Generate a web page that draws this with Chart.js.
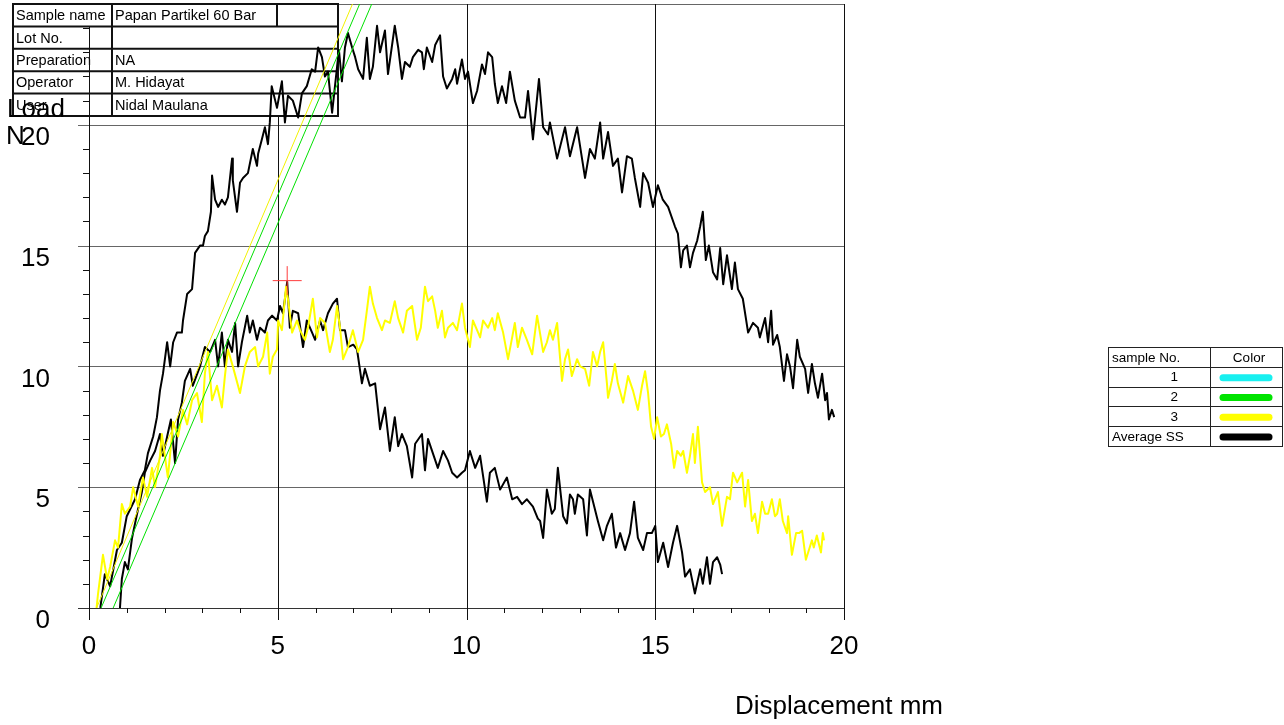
<!DOCTYPE html>
<html>
<head>
<meta charset="utf-8">
<title>Load - Displacement</title>
<script src="https://cdn.jsdelivr.net/npm/chart.js@4.4.1/dist/chart.umd.min.js"></script>
<style>
  html, body { margin:0; padding:0; background:#fff; }
  canvas { display:block; }
</style>
</head>
<body>
<canvas id="chart" width="1284" height="725"></canvas>
<script>
// Curves: x = displacement (mm), y = load (N)
const hiX = [0.30,0.42,0.56,0.74,0.87,1.00,1.22,1.35,1.48,1.56,1.70,1.80,1.88,1.96,2.07,2.15,2.23,2.33,2.46,2.49,2.60,2.73,2.81,2.94,3.02,3.07,3.15,3.23,3.26,3.34,3.42,3.52,3.60,3.68,3.79,3.81,3.92,4.00,4.08,4.21,4.34,4.45,4.48,4.58,4.66,4.74,4.79,4.84,4.98,5.11,5.19,5.27,5.40,5.54,5.64,5.77,5.90,5.99,6.07,6.17,6.25,6.33,6.44,6.62,6.70,6.78,6.86,6.97,7.05,7.13,7.26,7.36,7.44,7.52,7.63,7.71,7.84,7.92,8.10,8.19,8.29,8.37,8.50,8.58,8.72,8.82,8.87,8.95,9.09,9.17,9.30,9.38,9.48,9.62,9.70,9.75,9.88,9.96,10.04,10.17,10.28,10.41,10.49,10.57,10.68,10.75,10.83,10.94,11.05,11.15,11.28,11.42,11.55,11.63,11.76,11.92,12.03,12.16,12.21,12.40,12.61,12.74,12.93,13.14,13.27,13.40,13.54,13.62,13.75,13.88,14.01,14.12,14.25,14.38,14.46,14.60,14.68,14.81,14.94,15.07,15.20,15.34,15.52,15.60,15.68,15.74,15.84,15.92,16.00,16.11,16.19,16.26,16.34,16.42,16.53,16.64,16.72,16.80,16.90,17.03,17.11,17.19,17.32,17.46,17.59,17.72,17.77,17.91,17.99,18.07,18.12,18.23,18.30,18.41,18.49,18.57,18.65,18.76,18.83,18.97,19.05,19.15,19.23,19.31,19.42,19.50,19.55,19.60,19.68,19.74];
const hiY = [0,1.4,0.9,2.4,2.7,3.8,4.5,5.3,5.7,6.4,7.1,7.9,9.0,9.7,11.0,10.0,11.0,11.4,11.4,11.9,13.0,13.2,14.7,15.0,15.0,15.4,15.6,16.4,17.9,16.9,16.6,16.9,16.7,17.0,18.6,17.7,16.4,17.6,17.8,18.0,19.0,18.3,18.8,19.4,19.9,19.2,20.1,21.6,20.7,21.8,20.1,21.2,21.0,20.3,21.3,21.6,22.3,22.2,23.2,22.8,22.0,22.2,20.5,23.1,21.8,23.2,23.8,23.2,22.8,22.3,21.9,23.6,21.9,22.4,24.1,23.0,23.9,22.1,24.1,23.2,21.9,22.6,22.4,22.8,23.1,23.0,22.3,23.2,22.6,23.3,23.7,22.0,21.5,21.9,22.3,21.7,22.7,21.9,22.2,20.9,21.4,22.5,22.1,23.0,22.8,21.7,20.9,21.6,20.9,22.2,21.0,20.3,20.3,21.4,19.4,21.9,19.9,19.6,20.1,18.6,19.9,18.7,19.9,17.8,19.0,18.6,20.1,18.6,19.7,18.3,18.6,17.2,18.7,18.6,17.8,16.6,18.0,17.6,16.6,17.5,16.9,16.6,15.8,15.5,14.1,14.8,15.0,14.1,14.7,15.2,15.8,16.4,14.4,15.0,13.9,13.6,14.9,13.4,14.6,13.2,14.3,13.2,12.8,11.4,11.8,11.6,11.2,12.0,11.0,12.3,10.9,11.3,10.8,9.4,10.5,10.0,9.1,11.1,10.4,9.9,8.9,10.1,9.3,8.7,9.7,8.6,8.9,7.8,8.2,7.9];

const loX = [0.82,0.87,0.95,1.03,1.14,1.22,1.30,1.40,1.48,1.62,1.75,1.88,1.96,2.07,2.17,2.28,2.36,2.46,2.54,2.68,2.75,2.94,3.07,3.21,3.34,3.42,3.52,3.60,3.68,3.79,3.87,3.95,4.05,4.19,4.26,4.34,4.45,4.53,4.66,4.74,4.85,4.98,5.06,5.14,5.25,5.32,5.40,5.54,5.67,5.77,5.91,5.99,6.12,6.20,6.33,6.46,6.57,6.65,6.78,6.86,7.00,7.10,7.23,7.31,7.44,7.58,7.71,7.84,7.97,8.10,8.19,8.29,8.42,8.56,8.64,8.82,8.90,8.98,9.11,9.24,9.38,9.51,9.62,9.75,9.88,9.96,10.09,10.23,10.36,10.54,10.62,10.75,10.89,11.07,11.21,11.34,11.47,11.60,11.76,11.89,11.95,12.03,12.13,12.26,12.34,12.42,12.56,12.66,12.74,12.82,12.87,12.95,13.09,13.19,13.27,13.40,13.48,13.62,13.72,13.85,13.96,14.07,14.20,14.33,14.44,14.54,14.68,14.78,14.91,15.00,15.07,15.21,15.34,15.47,15.58,15.71,15.79,15.92,16.05,16.19,16.26,16.37,16.45,16.53,16.64,16.72,16.77];
const loY = [0,1.2,1.9,1.6,2.9,3.5,4.1,4.8,5.6,6.1,6.5,7.2,6.3,7.1,7.8,6.0,7.8,8.5,9.4,9.9,9.2,10.0,10.8,10.6,11.1,10.0,11.4,10.0,11.1,10.6,11.8,10.0,11.0,12.1,11.4,11.9,11.1,11.6,11.4,11.9,12.1,11.9,12.5,12.2,13.5,11.6,12.3,12.2,10.8,11.9,11.4,11.1,11.9,11.5,12.2,12.6,12.8,11.5,11.5,10.8,10.9,10.7,9.3,9.9,9.2,9.3,7.4,8.3,6.5,7.9,6.7,7.2,6.7,5.4,6.8,7.2,5.7,7.0,6.4,5.8,6.5,6.1,5.6,5.4,5.6,5.7,6.5,5.8,6.3,4.4,5.6,5.8,4.9,5.4,4.5,4.6,4.3,4.5,4.2,3.7,3.6,2.9,4.9,3.9,4.1,5.8,3.8,3.5,4.7,4.5,3.9,4.7,4.5,3.0,4.9,4.1,3.6,2.8,3.4,3.9,2.5,3.1,2.4,3.1,4.4,2.9,2.4,3.1,3.1,3.4,1.9,2.7,1.7,2.7,3.4,2.3,1.3,1.6,0.6,1.6,1.0,2.1,1.0,1.9,2.1,1.8,1.4];

const yelX = [0.20,0.24,0.37,0.48,0.56,0.69,0.77,0.87,0.95,1.09,1.17,1.30,1.43,1.54,1.67,1.75,1.88,1.93,2.09,2.23,2.36,2.49,2.60,2.73,2.86,2.99,3.07,3.15,3.26,3.39,3.52,3.60,3.68,3.81,4.00,4.13,4.26,4.40,4.48,4.61,4.72,4.79,4.87,4.98,5.01,5.11,5.22,5.27,5.38,5.51,5.59,5.72,5.80,5.93,6.04,6.12,6.25,6.38,6.46,6.57,6.65,6.73,6.86,6.99,7.13,7.26,7.36,7.44,7.52,7.63,7.76,7.84,7.97,8.10,8.19,8.32,8.42,8.56,8.69,8.79,8.90,8.98,9.09,9.17,9.24,9.35,9.43,9.51,9.64,9.75,9.88,9.96,10.09,10.17,10.28,10.36,10.44,10.57,10.68,10.75,10.83,10.97,11.10,11.21,11.28,11.36,11.47,11.60,11.74,11.87,12.03,12.13,12.21,12.29,12.40,12.53,12.61,12.69,12.79,12.93,13.01,13.14,13.25,13.35,13.46,13.54,13.62,13.72,13.75,13.85,13.93,14.01,14.15,14.28,14.41,14.54,14.65,14.73,14.81,14.89,14.97,15.05,15.15,15.23,15.31,15.42,15.50,15.58,15.68,15.74,15.84,15.92,16.00,16.05,16.13,16.24,16.32,16.45,16.53,16.66,16.77,16.90,16.98,17.06,17.17,17.30,17.38,17.46,17.56,17.64,17.72,17.83,17.91,17.99,18.09,18.17,18.23,18.30,18.38,18.49,18.52,18.62,18.73,18.81,18.89,18.99,19.05,19.15,19.20,19.28,19.39,19.44,19.47];
const yelY = [0,0.6,2.2,1.2,1.7,2.8,2.5,4.3,3.9,4.2,5.0,4.2,5.4,4.6,5.8,5.0,6.3,7.2,5.4,7.7,7.1,8.2,7.6,8.6,8.9,7.7,9.7,10.6,8.6,9.2,8.3,9.6,10.7,10.0,8.9,10.0,10.6,10.8,10.0,10.4,11.4,9.7,10.4,10.7,11.9,11.5,13.3,12.8,11.4,11.9,11.5,11.1,11.6,12.8,11.2,12.0,11.8,10.6,11.1,12.5,11.6,10.3,10.8,11.5,10.6,11.1,12.3,13.3,12.6,12.0,11.5,11.9,11.8,12.7,12.0,11.4,12.3,12.5,11.1,11.6,13.3,12.7,12.9,12.3,11.6,12.3,11.2,11.6,11.8,11.5,12.6,11.6,10.8,11.9,11.5,11.2,11.9,11.6,12.0,11.5,12.2,11.4,10.3,11.2,11.8,10.8,11.6,11.1,10.5,12.1,10.6,11.0,11.5,11.1,11.8,9.4,10.3,10.7,9.6,10.3,10.0,9.9,9.2,10.6,10.0,10.6,11.0,9.3,8.7,9.4,10.1,9.3,8.5,9.6,9.0,8.2,9.2,9.8,8.9,7.5,7.0,7.9,7.1,7.2,7.6,6.8,5.8,6.5,6.3,6.5,5.6,6.3,7.2,6.0,7.5,5.2,4.8,5.0,4.3,4.8,3.4,4.6,4.5,5.6,5.2,5.6,4.2,5.3,3.6,3.9,3.1,4.4,3.9,3.9,4.5,3.8,3.9,4.5,3.6,3.1,3.8,2.2,3.1,3.1,3.2,2.0,2.3,2.8,2.5,3.0,2.3,3.1,2.8];

// straight fit lines (end points) and the marked peak
const fitY = [0, 25];
const fitYellowX = [0.20, 6.98];
const fitGreen1X = [0.32, 7.17];
const fitGreen2X = [0.64, 7.49];
const peakX = [5.25];
const peakY = [13.55];

// header table and colour key
const infoLabels = ['Sample name', 'Lot No.', 'Preparation', 'Operator', 'User'];
const infoValues = ['Papan Partikel 60 Bar', '', 'NA', 'M. Hidayat', 'Nidal Maulana'];
const keyNames = ['1', '2', '3', 'Average SS'];
const keyColors = ['#18f0f0', '#00e400', '#ffff00', '#000000'];

const FONT = '"Liberation Sans", Arial, sans-serif';
const PLOT_TOP = 4;
const pts = (xs, ys) => xs.map((v, i) => ({ x: v, y: ys[i] }));

function seg(ctx, x1, y1, x2, y2) {
  ctx.beginPath(); ctx.moveTo(x1, y1); ctx.lineTo(x2, y2); ctx.stroke();
}

// scale paddings off, the plot box is set by layout.padding alone
function noPad(s) {
  s.paddingTop = 0; s.paddingBottom = 0; s.paddingLeft = 0; s.paddingRight = 0;
}

// grid, ticks and the header table (under the curves)
const frame = {
  id: 'frame',
  afterLayout(chart) {
    // the big cross marker makes Chart.js reserve room on top; take it back
    const a = chart.chartArea, y = chart.scales.y;
    a.top = PLOT_TOP; a.height = a.bottom - a.top;
    y.top = PLOT_TOP; y.height = y.bottom - y.top;
    y.configure();
  },
  beforeDatasetsDraw(chart) {
    const { ctx, chartArea: a, scales: { x, y } } = chart;
    const px = v => Math.round(x.getPixelForValue(v)) + 0.5;
    const py = v => Math.round(y.getPixelForValue(v)) + 0.5;
    ctx.save();
    ctx.lineWidth = 1;
    for (let v = 5; v <= 25; v += 5) { ctx.strokeStyle = '#666'; seg(ctx, a.left - 11, py(v), a.right, py(v)); }
    ctx.strokeStyle = '#333';
    seg(ctx, a.left - 11, py(0), a.right, py(0));
    ctx.strokeStyle = '#111';
    for (let v = 0; v <= 20; v += 5) seg(ctx, px(v), a.top, px(v), a.bottom + 12);
    for (let v = 1; v < 20; v++) if (v % 5) seg(ctx, px(v), a.bottom, px(v), a.bottom + 5);
    for (let v = 1; v < 25; v++) if (v % 5) seg(ctx, a.left - 6, py(v), a.left, py(v));

    // header table, opaque
    const L = 13, C = 112, R = 338, T = 4, rh = 22.4;
    ctx.fillStyle = '#fff';
    ctx.fillRect(L, T, R - L, rh * 5);
    ctx.strokeStyle = '#111'; ctx.lineWidth = 2;
    ctx.strokeRect(L, T, R - L, rh * 5);
    for (let i = 1; i < 5; i++) seg(ctx, L, T + i * rh, R, T + i * rh);
    seg(ctx, C, T, C, T + rh * 5);
    seg(ctx, 277, T, 277, T + rh);
    ctx.font = `14.5px ${FONT}`; ctx.fillStyle = '#000'; ctx.textBaseline = 'middle';
    infoLabels.forEach((s, i) => {
      ctx.fillText(s, L + 3, T + i * rh + rh / 2 + 1);
      ctx.fillText(infoValues[i], C + 3, T + i * rh + rh / 2 + 1);
    });
    // y axis shows through the lower rows
    ctx.lineWidth = 1; ctx.strokeStyle = '#111';
    seg(ctx, px(0), T + rh, px(0), a.bottom);
    for (let v = 21; v < 25; v++) seg(ctx, a.left - 6, py(v), a.left, py(v));
    ctx.restore();
  },
  afterDraw(chart) {
    const { ctx } = chart;
    ctx.save();
    ctx.fillStyle = '#000';
    ctx.textBaseline = 'middle';
    ctx.font = `26px ${FONT}`;
    ctx.fillText('Load', 7, 110);
    ctx.fillText('N', 6, 137);
    ctx.textAlign = 'right';
    ctx.fillText('Displacement mm', 943, 707);

    // colour key on the right
    const L = 1108, C = 1210, R = 1282, T = 347, rh = 19.8;
    ctx.lineWidth = 1; ctx.strokeStyle = '#222';
    ctx.strokeRect(L + 0.5, T + 0.5, R - L, rh * 5);
    for (let i = 1; i < 5; i++) seg(ctx, L, Math.round(T + i * rh) + 0.5, R, Math.round(T + i * rh) + 0.5);
    seg(ctx, C + 0.5, T, C + 0.5, T + rh * 5);
    ctx.font = `13.5px ${FONT}`;
    ctx.textAlign = 'left';
    ctx.fillText('sample No.', L + 4, T + rh / 2 + 1);
    ctx.textAlign = 'center';
    ctx.fillText('Color', 1249, T + rh / 2 + 1);
    ctx.lineCap = 'round'; ctx.lineWidth = 7;
    keyNames.forEach((s, i) => {
      const cy = T + (i + 1) * rh + rh / 2 + 1;
      ctx.textAlign = i === 3 ? 'left' : 'right';
      ctx.fillText(s, i === 3 ? L + 4 : 1178, cy);
      ctx.strokeStyle = keyColors[i];
      seg(ctx, 1223, cy, 1269, cy);
    });
    ctx.restore();
  }
};

const curve = (xs, ys, color, width, order) => ({
  data: pts(xs, ys), showLine: true, borderColor: color, borderWidth: width,
  pointRadius: 0, tension: 0, order, borderJoinStyle: 'round'
});

new Chart(document.getElementById('chart'), {
  type: 'scatter',
  data: {
    datasets: [
      curve(hiX, hiY, '#000', 2, 3),
      curve(loX, loY, '#000', 2, 3),
      curve(yelX, yelY, '#ffff00', 2, 2),
      curve(fitYellowX, fitY, '#f2f200', 1, 1),
      curve(fitGreen1X, fitY, '#00e000', 1, 1),
      curve(fitGreen2X, fitY, '#00e000', 1, 1),
      { data: pts(peakX, peakY), pointStyle: 'cross', pointRadius: 14.5, borderColor: '#ff3c3c',
        borderWidth: 1, showLine: false, order: 0 }
    ]
  },
  options: {
    responsive: false,
    animation: false,
    events: [],
    layout: { padding: { top: PLOT_TOP, right: 440, left: 0, bottom: 0 } },
    plugins: { legend: { display: false }, tooltip: { enabled: false } },
    scales: {
      x: {
        min: 0, max: 20,
        grid: { display: false, drawTicks: false }, border: { display: false },
        ticks: { stepSize: 5, autoSkip: false, maxRotation: 0, padding: 23, color: '#000', font: { family: FONT, size: 26 } },
        afterFit: s => { s.height = 117; noPad(s); }
      },
      y: {
        min: 0, max: 25,
        grid: { display: false, drawTicks: false }, border: { display: false },
        ticks: { stepSize: 5, padding: 39, labelOffset: 13, color: '#000', font: { family: FONT, size: 26 },
          callback: v => (v === 25 ? '' : v) },
        afterFit: s => { s.width = 89; noPad(s); }
      }
    }
  },
  plugins: [frame]
});
</script>
</body>
</html>
